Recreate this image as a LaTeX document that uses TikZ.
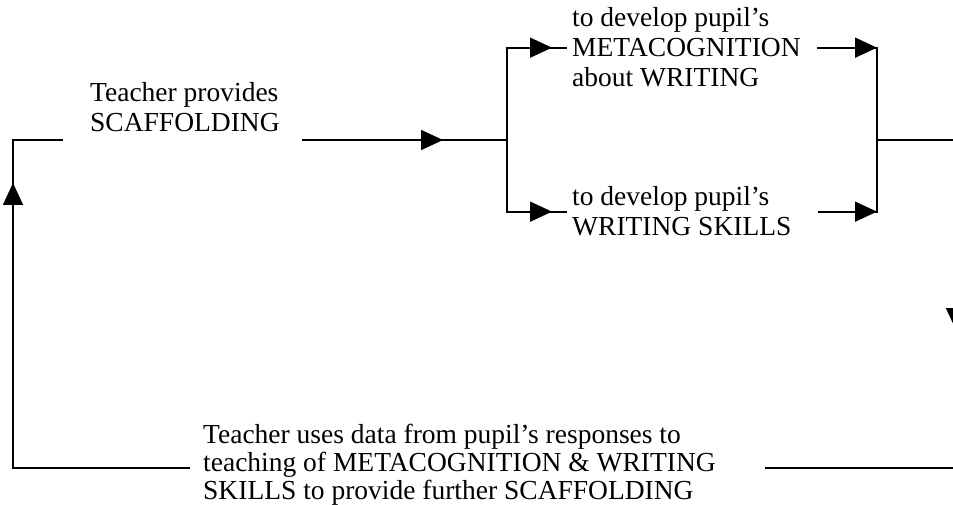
\documentclass[tikz,border=0pt]{standalone}
\usepackage{fontspec}
\setmainfont{Liberation Serif}
\usetikzlibrary{arrows.meta,calc}

\begin{document}
\begin{tikzpicture}[x=1pt, y=-1pt,
  line/.style={line width=1.7pt, line join=miter},
  >={Triangle[length=22pt, width=20pt]},
  txt/.style={align=left, anchor=base west, inner sep=0pt, font=\fontsize{27.5}{30}\selectfont}]
  \useasboundingbox (0,0) rectangle (953,505);
  \clip (0,0) rectangle (953,505);
  % texts (base = last line)
  \node[txt] (scaf) at (90,132) {Teacher provides\\SCAFFOLDING};
  \node[txt] (meta) at (572,87) {to develop pupil’s\\METACOGNITION\\about WRITING};
  \node[txt] (skills) at (572,236) {to develop pupil’s\\WRITING SKILLS};
  \node[txt, font=\fontsize{27.5}{28}\selectfont] (data) at (203,499) {Teacher uses data from pupil’s responses to\\teaching of METACOGNITION \& WRITING\\SKILLS to provide further SCAFFOLDING};
  % corners and ends of the loop
  \coordinate (turnL) at (13,140);
  \coordinate (cornerL) at (13,468);
  \coordinate (split) at (507,140);
  \coordinate (join) at (877,140);
  \coordinate (turnR) at (956,140);
  \coordinate (cornerR) at (956,468);
  \coordinate (stubL) at ($(scaf.west |- turnL)+(-27,0)$);
  \coordinate (mainA) at ($(scaf.east |- turnL)+(22,0)$);
  \coordinate (botL) at ($(data.west |- cornerL)+(-13,0)$);
  \coordinate (botR) at (765,468);
  % scaffolding to the two branches
  \draw[line] (mainA) -- (split);
  \draw[line,->] (mainA) -- (443,140);
  \draw[line] (split) |- ([xshift=-5pt]meta.west);
  \draw[line,->] (split) |- ($(meta.west)+(-20,0)$);
  \draw[line] (split) |- ([xshift=-5pt]skills.west);
  \draw[line,->] (split) |- ($(skills.west)+(-20,0)$);
  % branches back together
  \draw[line] ([xshift=16pt]meta.east |- meta.west) -| (join);
  \draw[line,->] ([xshift=16pt]meta.east |- meta.west) -- (join |- meta.west);
  \draw[line] ($(skills.east |- skills.west)+(26,0)$) -| (join);
  \draw[line,->] ($(skills.east |- skills.west)+(26,0)$) -- (join |- skills.west);
  % feedback loop
  \draw[line] (join) -- (turnR) -- (cornerR) -- (botR);
  \draw[line,->] (turnR) -- (956,330);
  \draw[line] (botL) -- (cornerL) -- (turnL) -- (stubL);
  \draw[line,->] (cornerL) -- (13,183);
\end{tikzpicture}
\end{document}
